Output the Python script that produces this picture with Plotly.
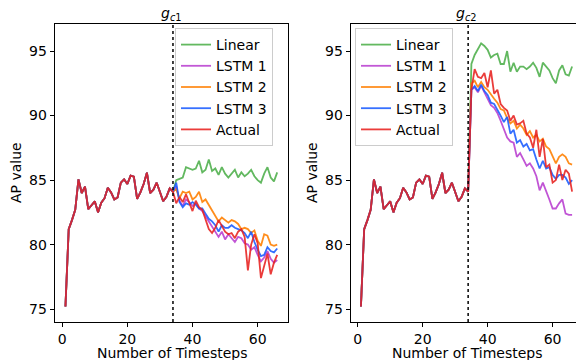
import plotly.graph_objects as go

# ---------------- data ----------------
x_hist = list(range(1, 35))
hist = [75.2, 81.2, 81.9, 82.7, 85.05, 84.0, 84.5, 82.75, 83.05, 83.35,
        82.5, 83.25, 83.6, 84.4, 84.05, 83.5, 83.65, 84.8, 85.05, 84.7,
        85.35, 85.27, 83.55, 84.05, 84.7, 85.57, 84.0, 84.26, 84.8, 84.03,
        83.36, 83.7, 84.35, 84.1]
x_pred = list(range(35, 67))

# panel g_c1
c1_linear = [85.0, 85.1, 85.2, 86.0, 85.9, 85.8, 85.9, 86.5, 85.6, 85.8, 86.6, 85.7, 85.9, 85.4, 86.0, 85.5,
             85.2, 85.5, 85.8, 85.2, 85.6, 85.3, 85.5, 85.8, 85.3, 85.0, 84.8, 85.5, 86.0, 85.2, 84.9, 85.6]
c1_lstm1 = [84.5, 83.4, 83.0, 83.5, 83.3, 83.0, 83.2, 82.8, 82.6, 82.2, 81.8, 81.4, 81.0, 80.6, 81.0, 80.4,
            80.8, 80.5, 80.2, 80.6, 80.5, 80.1, 80.0, 79.6, 79.8, 79.2, 78.7, 79.0, 79.5, 78.9, 78.6, 78.8]
c1_lstm2 = [84.3, 83.6, 84.1, 84.0, 84.1, 83.5, 83.7, 84.1, 83.3, 83.5, 83.1, 82.7, 82.2, 81.8, 82.1, 81.9,
            81.7, 81.9, 81.8, 81.6, 81.2, 81.3, 81.2, 80.9, 81.1, 80.3, 79.9, 80.8, 80.7, 80.0, 79.9, 80.0]
c1_lstm3 = [84.8, 83.3, 82.9, 83.2, 83.1, 83.3, 83.1, 82.8, 82.8, 82.4, 82.0, 81.8, 81.5, 81.0, 81.5, 81.3,
            81.3, 81.5, 81.3, 81.2, 81.1, 80.9, 80.5, 81.0, 80.2, 79.6, 79.1, 79.2, 79.8, 79.5, 79.4, 79.7]
c1_actual = [83.2, 83.7, 83.3, 83.9, 83.2, 82.6, 83.4, 82.9, 82.7, 82.0, 81.2, 80.9, 81.3, 81.9, 81.4, 81.0,
             80.8, 80.9, 80.5, 81.0, 81.2, 80.6, 78.0, 80.0, 80.8, 80.1, 77.4, 78.4, 79.3, 77.7, 78.6, 79.2]

# panel g_c2
c2_linear = [94.0, 94.7, 95.1, 95.6, 95.4, 95.1, 94.5, 94.7, 94.8, 94.0, 94.0, 95.0, 93.4, 94.1, 93.4, 93.8,
             93.8, 93.6, 93.8, 94.1, 93.7, 93.0, 94.1, 93.8, 93.5, 92.9, 92.5, 93.5, 93.9, 93.2, 93.1, 93.8]
c2_lstm1 = [92.0, 92.2, 91.8, 92.3, 91.8, 91.4, 90.8, 90.6, 90.2, 89.6, 89.0, 88.3, 88.0, 87.9, 86.8, 87.1,
            86.6, 86.1, 86.3, 85.9, 85.3, 84.2, 84.8, 84.2, 83.5, 82.8, 82.8, 83.2, 83.5, 82.4, 82.3, 82.3]
c2_lstm2 = [92.5, 92.7, 92.2, 92.6, 92.2, 92.0, 91.6, 91.3, 91.0, 90.5, 90.4, 89.8, 89.4, 89.6, 89.0, 89.3,
            89.0, 88.5, 88.8, 88.3, 88.5, 88.0, 88.2, 87.6, 87.4, 86.9, 86.3, 86.8, 87.0, 86.8, 86.3, 86.2]
c2_lstm3 = [92.0, 92.3, 91.9, 92.4, 91.9, 91.6, 91.0, 90.9, 90.5, 90.0, 89.5, 89.9, 88.6, 88.9, 87.9, 88.1,
            87.6, 87.8, 87.3, 87.4, 86.6, 85.9, 86.5, 85.9, 86.0, 85.4, 85.1, 85.4, 85.4, 85.2, 84.7, 85.0]
c2_actual = [92.0, 93.6, 93.0, 92.9, 93.3, 92.2, 93.5, 91.7, 92.0, 90.9, 90.6, 90.4, 89.6, 90.0, 89.3, 89.4,
             89.6, 88.6, 88.3, 87.5, 88.9, 86.8, 88.2, 86.0, 86.2, 84.8, 85.0, 86.2, 85.0, 85.8, 85.5, 84.1]

series_names = ["Linear", "LSTM 1", "LSTM 2", "LSTM 3", "Actual"]
colors = ["#4daf4a", "#b940d0", "#ff8000", "#1a5cff", "#e8211f"]
panel_titles = ["<i>g</i><sub><i>c</i>1</sub>", "<i>g</i><sub><i>c</i>2</sub>"]
split_x = 34
xtick_vals = [0, 20, 40, 60]
ytick_vals = [75, 80, 85, 90, 95]

panels = [
    [c1_linear, c1_lstm1, c1_lstm2, c1_lstm3, c1_actual],
    [c2_linear, c2_lstm1, c2_lstm2, c2_lstm3, c2_actual],
]

# ---------------- figure ----------------
W, H = 576, 360
fig = go.Figure()

x_domains = [[54.7 / W, 288.3 / W], [350.7 / W, 1.0]]
x_ranges = [[-2.3, 69.4], [-2.15, 67.2]]
y_dom = [1 - 322 / H, 1 - 24 / H]
y_range = [74.0, 97.1]

font = "DejaVu Sans, Verdana, sans-serif"

for p, series in enumerate(panels):
    xa = "x" if p == 0 else "x2"
    ya = "y" if p == 0 else "y2"
    leg = "legend" if p == 0 else "legend2"
    for name, col, vals in zip(series_names, colors, series):
        fig.add_trace(go.Scatter(
            x=x_hist + x_pred, y=hist + vals, mode="lines", name=name,
            line=dict(color=col, width=1.8), opacity=0.88,
            xaxis=xa, yaxis=ya, legend=leg, showlegend=True,
        ))
    fig.add_shape(type="line", x0=split_x, x1=split_x, y0=0, y1=1,
                  xref=xa, yref=f"{ya} domain",
                  line=dict(color="black", width=1.5, dash="dot"))

axis_common = dict(showline=True, linecolor="black", linewidth=1, ticks="outside",
                   ticklen=4, tickwidth=1, tickcolor="black", showgrid=False, zeroline=False,
                   tickfont=dict(size=14, color="black", family=font), automargin=False)

legend_common = dict(xanchor="left", yanchor="top",
                     bgcolor="rgba(255,255,255,0.85)", bordercolor="#cccccc", borderwidth=1,
                     font=dict(size=14, family=font, color="black"))

fig.update_layout(
    width=W, height=H, margin=dict(l=0, r=0, t=0, b=0),
    paper_bgcolor="white", plot_bgcolor="white",
    font=dict(family=font, size=14, color="black"),
    xaxis=dict(domain=x_domains[0], range=x_ranges[0], tickvals=xtick_vals, mirror=True,
               anchor="y", **axis_common),
    yaxis=dict(domain=y_dom, range=y_range, tickvals=ytick_vals, mirror=True,
               anchor="x", **axis_common),
    xaxis2=dict(domain=x_domains[1], range=x_ranges[1], tickvals=xtick_vals, mirror=True,
                anchor="y2", **axis_common),
    yaxis2=dict(domain=y_dom, range=y_range, tickvals=ytick_vals, mirror=False,
                anchor="x2", **axis_common),
    legend=dict(x=175 / W, y=1 - 28 / H, **legend_common),
    legend2=dict(x=355 / W, y=1 - 28 / H, **legend_common),
    showlegend=True,
)

# titles and axis labels as annotations
centers = [(54.7 + 288.3) / 2 / W, (350.7 + 583) / 2 / W]
xlab_x = [(54.7 + 288.3) / 2 / W, 467 / W]
ylab_x = [16 / W, 312 / W]
for p in range(2):
    fig.add_annotation(text=panel_titles[p], x=centers[p], y=1 - 14 / H, xref="paper", yref="paper",
                       showarrow=False, font=dict(size=14, family=font), xanchor="center", yanchor="middle")
    fig.add_annotation(text="Number of Timesteps", x=xlab_x[p],
                       y=1 - 353 / H, xref="paper", yref="paper", showarrow=False,
                       font=dict(size=14, family=font), xanchor="center", yanchor="middle")
    fig.add_annotation(text="AP value", x=ylab_x[p], y=1 - 173 / H, xref="paper", yref="paper",
                       showarrow=False, textangle=-90, font=dict(size=14, family=font),
                       xanchor="center", yanchor="middle")

fig.write_html("out.html", config={"displayModeBar": False},
               post_script="document.body.style.margin='0';document.body.style.overflow='hidden';")
